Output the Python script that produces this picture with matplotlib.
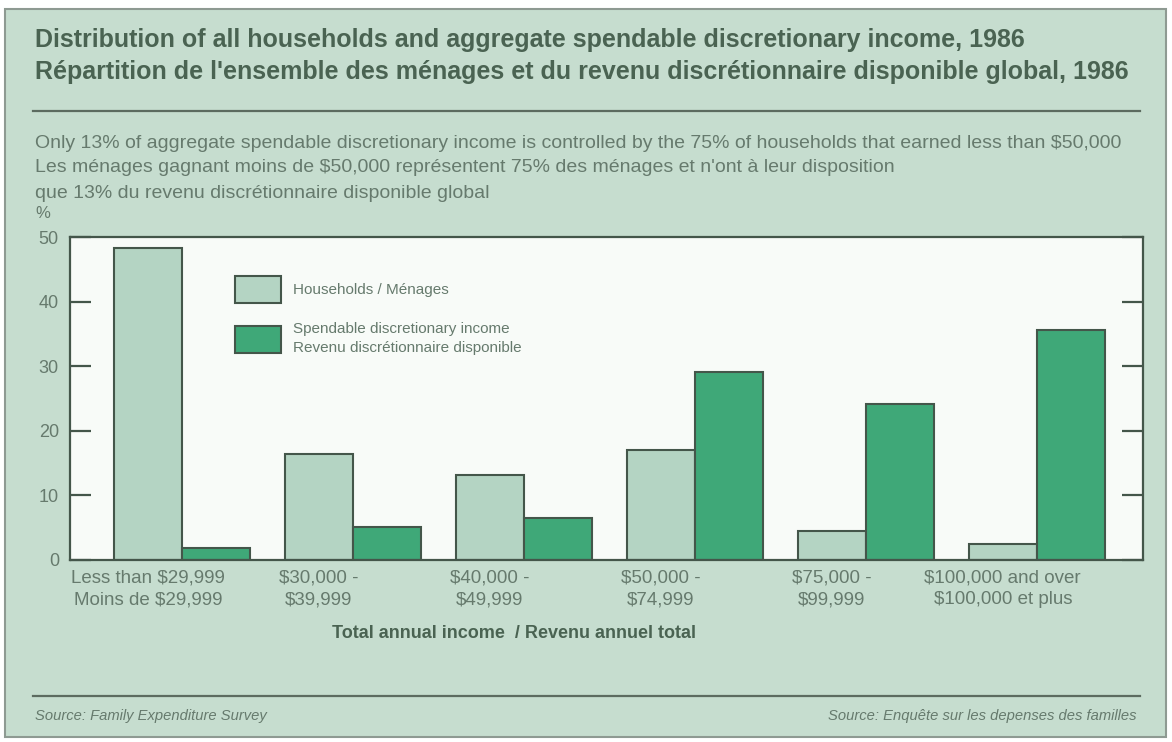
import matplotlib.pyplot as plt
import numpy as np
from matplotlib.patches import Rectangle
from matplotlib.lines import Line2D

# income brackets, two-line labels (English / French)
brackets = ['Less than $29,999\nMoins de $29,999',
            '$30,000 -\n$39,999',
            '$40,000 -\n$49,999',
            '$50,000 -\n$74,999',
            '$75,000 -\n$99,999',
            '$100,000 and over\n$100,000 et plus']

# percent of all households
households = [48.3, 16.4, 13.1, 17.1, 4.5, 2.5]
# percent of aggregate spendable discretionary income
income = [1.8, 5.1, 6.5, 29.1, 24.2, 35.6]

yticks = [0, 10, 20, 30, 40, 50]

panel_bg = '#c6ddcf'
plot_bg = '#f8fbf8'
c_house = '#b4d4c3'
c_income = '#3fa878'
c_edge = '#44564a'
c_title = '#4a6352'
c_text = '#667a6d'

plain = ['Liberation Sans', 'DejaVu Sans']

W, H = 1172, 742
fig = plt.figure(figsize=(W / 100, H / 100), dpi=100)
fig.patch.set_facecolor('white')

def fx(px):
    return px / W

def fy(py):
    return 1 - py / H

# green panel with grey frame
fig.patches.append(Rectangle((fx(5), fy(737)), fx(1161), 728 / H,
                             transform=fig.transFigure, facecolor=panel_bg,
                             edgecolor='#8e9a92', linewidth=1.5, zorder=-10))

# titles
fig.text(fx(35), fy(40), 'Distribution of all households and aggregate spendable discretionary income, 1986',
         family=plain, weight='bold', fontsize=18, color=c_title, va='center')
fig.text(fx(35), fy(72), "Répartition de l'ensemble des ménages et du revenu discrétionnaire disponible global, 1986",
         family=plain, weight='bold', fontsize=18, color=c_title, va='center')

fig.lines.append(Line2D([fx(33), fx(1140)], [fy(111), fy(111)], transform=fig.transFigure,
                        color='#5c6b60', linewidth=1.6))

note_fs = 14
fig.text(fx(35), fy(143), 'Only 13% of aggregate spendable discretionary income is controlled by the 75% of households that earned less than $50,000',
         family=plain, fontsize=note_fs, color=c_text, va='center')
fig.text(fx(35), fy(168), "Les ménages gagnant moins de $50,000 représentent 75% des ménages et n'ont à leur disposition",
         family=plain, fontsize=note_fs, color=c_text, va='center')
fig.text(fx(35), fy(193), 'que 13% du revenu discrétionnaire disponible global',
         family=plain, fontsize=note_fs, color=c_text, va='center')
fig.text(fx(35), fy(214), '%', family=plain, fontsize=12, color=c_text, va='center')

# chart area
ax = fig.add_axes([fx(70), fy(560), fx(1143 - 70), (560 - 237) / H])
ax.set_facecolor(plot_bg)

x = np.arange(len(brackets))
w = 0.4
b1 = ax.bar(x - w / 2, households, w, color=c_house, edgecolor=c_edge, linewidth=1.5,
            label='Households / Ménages')
b2 = ax.bar(x + w / 2, income, w, color=c_income, edgecolor=c_edge, linewidth=1.5,
            label='Spendable discretionary income\nRevenu discrétionnaire disponible')

ax.set_xlim(-0.655, 5.62)
ax.set_ylim(0, 50)
ax.set_yticks(yticks)
ax.set_xticks(x - w / 2)
ax.set_xticklabels(brackets, family=plain, fontsize=13.5, color=c_text, linespacing=1.35)
ax.tick_params(axis='x', length=0, pad=7)
ax.tick_params(axis='y', direction='in', length=15, width=1.6, color=c_edge,
               labelsize=13, labelcolor=c_text, pad=8, right=True)
for lab in ax.get_yticklabels():
    lab.set_family(plain)
for s in ax.spines.values():
    s.set_color(c_edge)
    s.set_linewidth(1.6)

leg = ax.legend(handles=[b1, b2], loc='upper left', bbox_to_anchor=(fx(227), fy(268)),
                bbox_transform=fig.transFigure, frameon=False,
                prop={'family': plain, 'size': 11}, handlelength=3.05, handleheight=2.34,
                handletextpad=0.75, labelspacing=1.3, borderpad=0)
for t in leg.get_texts():
    t.set_color(c_text)
    t.set_linespacing(1.45)

fig.text(fx(514), fy(633), 'Total annual income  / Revenu annuel total', family=plain,
         weight='bold', fontsize=13, color=c_title, ha='center', va='center')

fig.lines.append(Line2D([fx(33), fx(1140)], [fy(696), fy(696)], transform=fig.transFigure,
                        color='#5c6b60', linewidth=1.6))
fig.text(fx(35), fy(716), 'Source: Family Expenditure Survey', family=plain, style='italic',
         fontsize=10.6, color=c_text, va='center')
fig.text(fx(1137), fy(716), 'Source: Enquête sur les depenses des familles', family=plain,
         style='italic', fontsize=10.6, color=c_text, va='center', ha='right')

fig.savefig('out.png', dpi=100)
